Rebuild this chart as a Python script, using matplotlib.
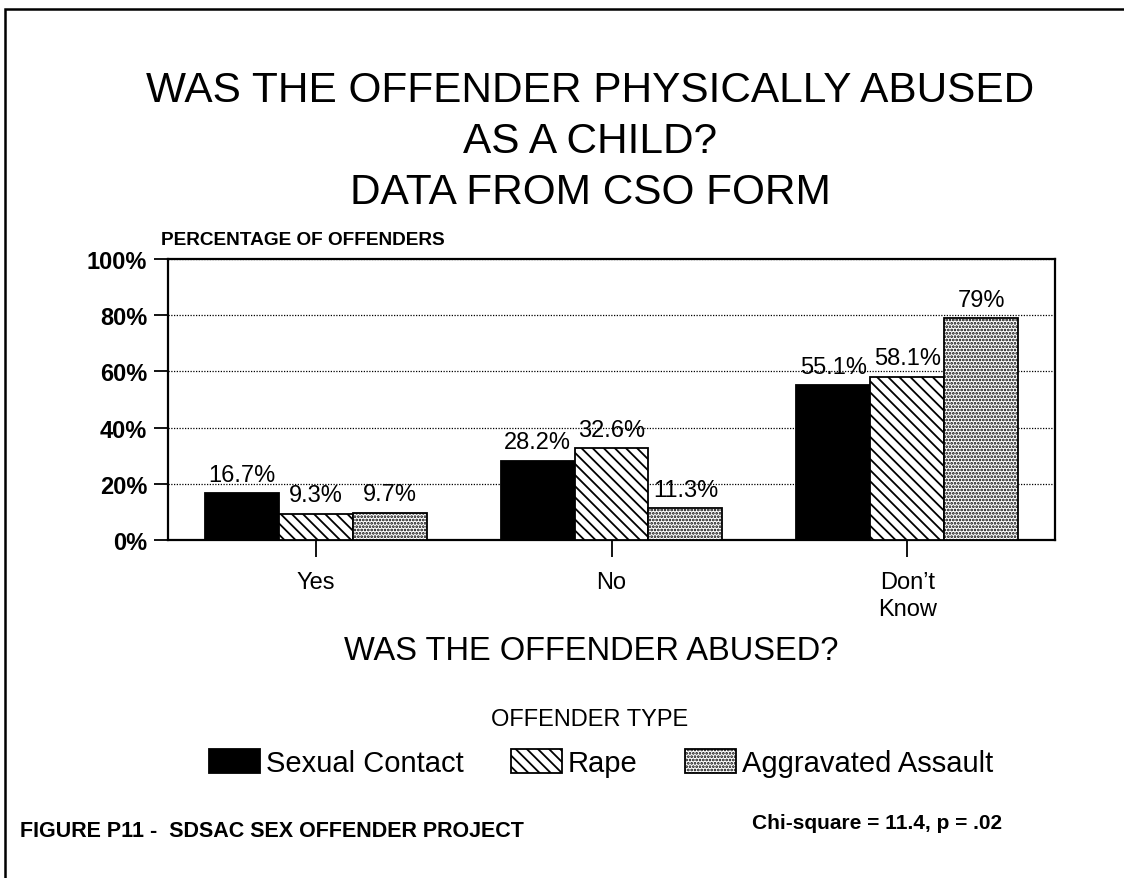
import matplotlib
matplotlib.use("Agg")
import matplotlib.pyplot as plt
from matplotlib import font_manager
from matplotlib.patches import Rectangle
import numpy as np

# ---- data -------------------------------------------------------------
categories = ["Yes", "No", "Don\u2019t\nKnow"]
offender_types = ["Sexual Contact", "Rape", "Aggravated Assault"]
sexual_contact = [16.7, 28.2, 55.1]
rape = [9.3, 32.6, 58.1]
aggravated_assault = [9.7, 11.3, 79.0]
y_ticks = [0, 20, 40, 60, 80, 100]
y_tick_labels = ["0%", "20%", "40%", "60%", "80%", "100%"]

title_lines = ["WAS THE OFFENDER PHYSICALLY ABUSED", "AS A CHILD?", "DATA FROM CSO FORM"]
y_axis_title = "PERCENTAGE OF OFFENDERS"
x_axis_title = "WAS THE OFFENDER ABUSED?"
legend_title = "OFFENDER TYPE"
footer_left = "FIGURE P11 -  SDSAC SEX OFFENDER PROJECT"
footer_right = "Chi-square = 11.4, p = .02"


def pick_font(*names):
    for n in names:
        try:
            font_manager.findfont(n, fallback_to_default=False)
            return n
        except ValueError:
            continue
    return "DejaVu Sans"


BASE = pick_font("Liberation Sans", "Arial", "DejaVu Sans")
plt.rcParams["font.family"] = [BASE, "DejaVu Sans"]
plt.rcParams["hatch.linewidth"] = 1.3

W, H = 1124, 879
fig = plt.figure(figsize=(W / 100, H / 100), dpi=100)
fig.patch.set_facecolor("white")


def fx(px):
    return px / W


def fy(py):
    return 1 - py / H


# page frame (top and left edges visible)
fig.add_artist(Rectangle((fx(5), fy(H + 20)), 1.2, (H + 10) / H,
                         transform=fig.transFigure, fill=False,
                         edgecolor="black", linewidth=1.8))

# ---- axes -------------------------------------------------------------
ax = fig.add_axes([fx(168), fy(541), 887 / W, 281 / H])
x = np.arange(len(categories))
width = 0.25

series = [
    (sexual_contact, dict(facecolor="black", edgecolor="black")),
    (rape, dict(facecolor="white", edgecolor="black", hatch="\\\\\\")),
    (aggravated_assault, dict(facecolor="white", edgecolor="black", hatch=".....")),
]

handles = []
for i, (vals, style) in enumerate(series):
    pos = x + (i - 1) * width
    bars = ax.bar(pos, vals, width=width, linewidth=1.3, zorder=3, **style)
    handles.append(bars[0])
    for xp, v in zip(pos, vals):
        ax.annotate(f"{v:g}%", (xp, v), xytext=(0, 9), textcoords="offset points",
                    ha="center", va="baseline", fontsize=17, zorder=4)

ax.set_xlim(-0.5, 2.5)
ax.set_ylim(0, 100)
ax.set_yticks(y_ticks)
ax.set_yticklabels(y_tick_labels, fontsize=17, fontweight="bold")
ax.set_xticks(x)
ax.set_xticklabels(categories, fontsize=17, linespacing=1.3)
ax.set_axisbelow(True)
ax.yaxis.grid(True, color="black", linestyle=(0, (1, 1.2)), linewidth=0.9)
for s in ax.spines.values():
    s.set_linewidth(1.6)
ax.tick_params(axis="y", length=10, width=1.3, pad=5)
ax.tick_params(axis="x", length=12, width=1.3, pad=10)

# ---- texts ------------------------------------------------------------
for line, base in zip(title_lines, [102, 153, 204]):
    fig.text(fx(590), fy(base), line, ha="center", va="baseline", fontsize=30.5)

fig.text(fx(161), fy(245), y_axis_title, ha="left", va="baseline",
         fontsize=13.7, fontweight="bold")
fig.text(fx(591), fy(660), x_axis_title, ha="center", va="baseline", fontsize=23.5)
fig.text(fx(590), fy(726), legend_title, ha="center", va="baseline", fontsize=17)

fig.legend(handles, offender_types, loc="center", bbox_to_anchor=(fx(601), fy(764)),
           ncol=3, frameon=False, fontsize=21, handlelength=1.75, handleheight=0.85,
           handletextpad=0.22, columnspacing=1.6)

fig.text(fx(20), fy(837), footer_left, ha="left", va="baseline",
         fontsize=15.5, fontweight="bold")
fig.text(fx(1002), fy(829), footer_right, ha="right", va="baseline",
         fontsize=15, fontweight="bold")

fig.savefig("out.png", dpi=100, facecolor="white")
